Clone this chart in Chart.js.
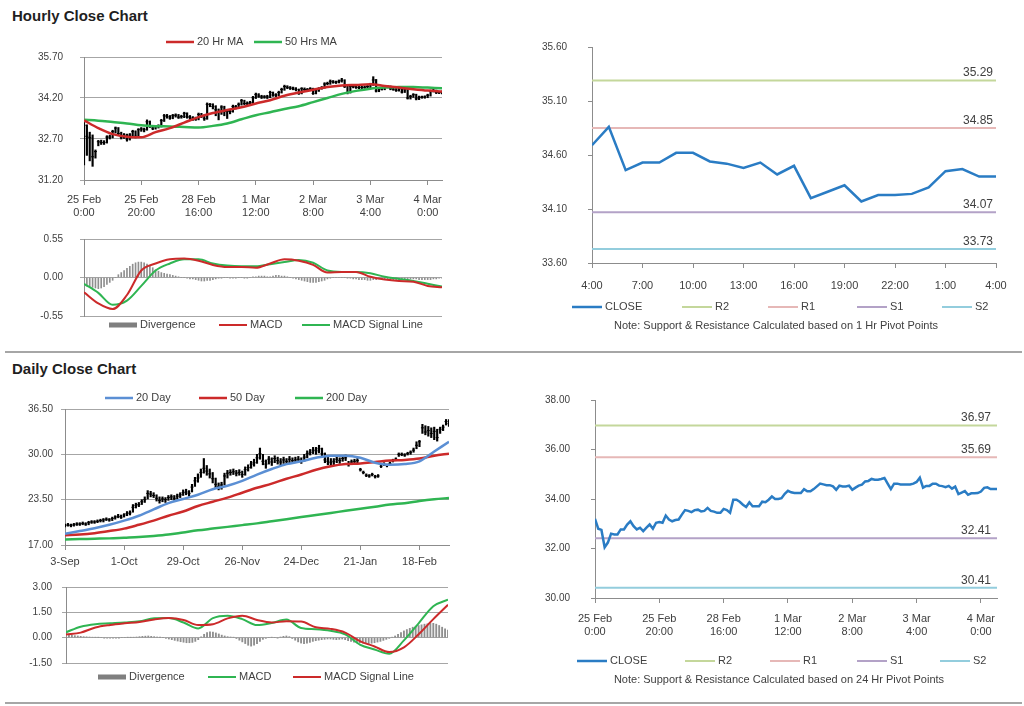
<!DOCTYPE html>
<html>
<head>
<meta charset="utf-8">
<script src="https://cdn.jsdelivr.net/npm/chart.js@4.4.1/dist/chart.umd.min.js"></script>
<style>
  body { margin: 0; background: #fff; width: 1024px; height: 706px; position: relative; overflow: hidden;
         font-family: Arial, "Liberation Sans", sans-serif; }
  canvas { position: absolute; }
  .title { position: absolute; left: 12px; font-weight: bold; font-size: 15px; color: #1f1f1f; }
  .sep { position: absolute; left: 5px; width: 1017px; height: 0; border-top: 2px solid #a6a6a6; }
</style>
</head>
<body>
<div class="title" style="top:7px">Hourly Close Chart</div>
<canvas id="hPrice" width="460" height="195" style="left:0;top:30px"></canvas>
<canvas id="hMacd" width="460" height="125" style="left:0;top:225px"></canvas>
<canvas id="hPivot" width="504" height="315" style="left:520px;top:30px"></canvas>
<div class="sep" style="top:351px"></div>
<div class="title" style="top:360px">Daily Close Chart</div>
<canvas id="dPrice" width="460" height="195" style="left:0;top:380px"></canvas>
<canvas id="dMacd" width="460" height="125" style="left:0;top:575px"></canvas>
<canvas id="dPivot" width="504" height="320" style="left:520px;top:380px"></canvas>
<div class="sep" style="top:702px"></div>
<script>
// ---------- hourly data, 25 Feb 0:00 .. 4 Mar 5:00 (one bar per trading hour) ----------
const hourlyTicks = [0, 20, 40, 60, 80, 100, 120];
const hourlyTickLabels = [['25 Feb', '0:00'], ['25 Feb', '20:00'], ['28 Feb', '16:00'], ['1 Mar', '12:00'],
                          ['2 Mar', '8:00'], ['3 Mar', '4:00'], ['4 Mar', '0:00']];
const hourlyPriceTicks = [31.2, 32.7, 34.2, 35.7];
const hourlyMacdTicks = [-0.55, 0, 0.55];

const hourlyClose = [
  33.20, 32.80, 32.75, 32.05, 32.24, 32.60, 32.57, 32.57, 32.77, 32.77,
  32.97, 33.10, 32.90, 32.77, 32.84, 32.70, 32.84, 32.97, 32.80, 33.04,
  33.07, 33.04, 33.33, 33.17, 33.10, 33.15, 33.17, 33.37, 33.55, 33.52,
  33.47, 33.55, 33.57, 33.50, 33.52, 33.64, 33.52, 33.49, 33.44, 33.44,
  33.60, 33.55, 33.44, 33.97, 33.97, 33.89, 33.77, 33.68, 33.87, 33.71,
  33.71, 33.71, 33.89, 33.87, 33.97, 34.10, 34.00, 34.00, 34.03, 34.21,
  34.33, 34.27, 34.24, 34.24, 34.24, 34.40, 34.31, 34.31, 34.40, 34.51,
  34.62, 34.59, 34.56, 34.56, 34.51, 34.37, 34.54, 34.51, 34.51, 34.54,
  34.37, 34.46, 34.54, 34.58, 34.71, 34.73, 34.81, 34.78, 34.78, 34.81,
  34.85, 34.62, 34.40, 34.62, 34.62, 34.59, 34.59, 34.59, 34.59, 34.62,
  34.69, 34.86, 34.46, 34.53, 34.53, 34.62, 34.62, 34.54, 34.52, 34.48,
  34.53, 34.42, 34.50, 34.20, 34.26, 34.32, 34.17, 34.23, 34.23, 34.24,
  34.30, 34.45, 34.47, 34.40, 34.40, 34.40
];
const hourlyHigh = [
  33.30, 33.22, 32.95, 32.85, 32.30, 32.65, 32.66, 32.64, 32.82, 32.84,
  33.02, 33.14, 33.12, 32.95, 32.90, 32.88, 32.90, 33.02, 33.00, 33.08,
  33.12, 33.10, 33.40, 33.36, 33.20, 33.20, 33.22, 33.42, 33.60, 33.60,
  33.56, 33.60, 33.62, 33.60, 33.57, 33.68, 33.66, 33.56, 33.52, 33.50,
  33.65, 33.64, 33.58, 34.02, 34.00, 33.99, 33.92, 33.80, 33.92, 33.90,
  33.78, 33.76, 33.94, 33.93, 34.02, 34.15, 34.12, 34.06, 34.08, 34.26,
  34.38, 34.36, 34.30, 34.29, 34.30, 34.45, 34.42, 34.36, 34.45, 34.56,
  34.67, 34.65, 34.62, 34.60, 34.58, 34.53, 34.58, 34.57, 34.55, 34.58,
  34.56, 34.50, 34.58, 34.62, 34.76, 34.78, 34.86, 34.84, 34.82, 34.86,
  34.92, 34.87, 34.65, 34.66, 34.66, 34.65, 34.63, 34.63, 34.64, 34.66,
  34.74, 34.98, 34.88, 34.58, 34.57, 34.66, 34.66, 34.64, 34.57, 34.55,
  34.57, 34.55, 34.54, 34.52, 34.30, 34.36, 34.34, 34.27, 34.27, 34.28,
  34.34, 34.49, 34.52, 34.49, 34.44, 34.45
];
const hourlyLow = [
  31.75, 32.10, 31.90, 31.70, 32.00, 32.45, 32.50, 32.50, 32.55, 32.70,
  32.74, 32.92, 32.85, 32.70, 32.72, 32.62, 32.66, 32.80, 32.74, 32.78,
  32.98, 32.96, 33.02, 33.12, 33.04, 33.06, 33.10, 33.14, 33.34, 33.46,
  33.42, 33.44, 33.50, 33.45, 33.46, 33.48, 33.46, 33.42, 33.38, 33.38,
  33.40, 33.48, 33.38, 33.42, 33.88, 33.80, 33.55, 33.40, 33.60, 33.55,
  33.45, 33.62, 33.68, 33.80, 33.84, 33.94, 33.95, 33.94, 33.96, 34.00,
  34.18, 34.22, 34.18, 34.19, 34.18, 34.21, 34.26, 34.25, 34.28, 34.38,
  34.48, 34.54, 34.51, 34.50, 34.46, 34.33, 34.35, 34.46, 34.46, 34.48,
  34.33, 34.35, 34.44, 34.52, 34.56, 34.68, 34.70, 34.74, 34.73, 34.75,
  34.78, 34.58, 34.35, 34.38, 34.57, 34.55, 34.54, 34.54, 34.55, 34.56,
  34.58, 34.66, 34.42, 34.43, 34.49, 34.50, 34.57, 34.50, 34.48, 34.44,
  34.45, 34.38, 34.40, 34.16, 34.16, 34.22, 34.13, 34.14, 34.19, 34.19,
  34.21, 34.27, 34.42, 34.36, 34.36, 34.35
];
// moving averages and MACD read every 5th bar
const ma20Hr = [33.38, 33.10, 32.88, 32.78, 32.76, 32.95, 33.10, 33.30, 33.50, 33.65, 33.76, 33.86, 34.00,
                34.12, 34.28, 34.40, 34.50, 34.60, 34.66, 34.68, 34.70, 34.64, 34.58, 34.52, 34.47, 34.44];
const ma50Hr = [33.40, 33.37, 33.32, 33.27, 33.20, 33.17, 33.16, 33.14, 33.12, 33.18, 33.27, 33.42, 33.57,
                33.68, 33.80, 33.90, 34.05, 34.20, 34.35, 34.46, 34.54, 34.58, 34.60, 34.60, 34.58, 34.56];
const macdHr = [-0.21, -0.37, -0.45, -0.25, 0.10, 0.20, 0.26, 0.27, 0.24, 0.18, 0.15, 0.15, 0.14,
                0.20, 0.26, 0.24, 0.18, 0.07, 0.08, 0.08, 0.01, -0.03, -0.05, -0.06, -0.12, -0.14];
const signalHr = [-0.09, -0.22, -0.39, -0.33, -0.12, 0.10, 0.20, 0.26, 0.26, 0.20, 0.17, 0.16, 0.16,
                  0.19, 0.22, 0.25, 0.21, 0.10, 0.08, 0.08, 0.06, 0.01, -0.02, -0.05, -0.09, -0.13];
const divergenceHr = [
  -0.10, -0.12, -0.13, -0.14, -0.15, -0.16, -0.15, -0.13, -0.10, -0.07,
  -0.04, 0.00, 0.04, 0.07, 0.10, 0.13, 0.16, 0.19, 0.21, 0.22,
  0.22, 0.21, 0.19, 0.17, 0.14, 0.11, 0.09, 0.07, 0.06, 0.05,
  0.04, 0.03, 0.02, 0.01, 0.00, 0.00, -0.01, -0.02, -0.02, -0.03,
  -0.04, -0.05, -0.05, -0.04, -0.04, -0.03, -0.02, -0.01, -0.01, 0.00,
  0.00, -0.01, -0.01, -0.01, 0.00, 0.00, -0.01, -0.01, 0.00, 0.01,
  0.01, 0.02, 0.02, 0.02, 0.01, 0.01, 0.02, 0.03, 0.03, 0.02,
  0.02, 0.01, 0.00, -0.01, -0.02, -0.03, -0.04, -0.05, -0.06, -0.07,
  -0.07, -0.07, -0.06, -0.05, -0.04, -0.02, -0.01, 0.00, 0.00, 0.00,
  0.00, 0.00, -0.01, -0.01, -0.02, -0.02, -0.03, -0.03, -0.03, -0.04,
  -0.04, -0.03, -0.03, -0.02, -0.02, -0.02, -0.02, -0.03, -0.03, -0.03,
  -0.03, -0.03, -0.03, -0.02, -0.02, -0.02, -0.02, -0.03, -0.03, -0.03,
  -0.03, -0.03, -0.02, -0.02, -0.01, -0.01
];

// ---------- last 24 hours with 1 Hr pivots ----------
const dayHours = ['4:00', '5:00', '6:00', '7:00', '8:00', '9:00', '10:00', '11:00', '12:00', '13:00',
                  '14:00', '15:00', '16:00', '17:00', '18:00', '19:00', '20:00', '21:00', '22:00', '23:00',
                  '0:00', '1:00', '2:00', '3:00', '4:00'];
const dayHourTicks = [0, 3, 6, 9, 12, 15, 18, 21, 24];
const dayClose = [34.69, 34.86, 34.46, 34.53, 34.53, 34.62, 34.62, 34.54, 34.52, 34.48, 34.53, 34.42, 34.50,
                  34.20, 34.26, 34.32, 34.17, 34.23, 34.23, 34.24, 34.30, 34.45, 34.47, 34.40, 34.40];
const dayPivotTicks = [33.6, 34.1, 34.6, 35.1, 35.6];
const pivotNames = ['R2', 'R1', 'S1', 'S2'];
const pivots1Hr = [35.29, 34.85, 34.07, 33.73];

// ---------- daily data, 3-Sep .. 4-Mar ----------
const dailyTicks = [0, 20, 40, 60, 80, 100, 120];
const dailyTickLabels = ['3-Sep', '1-Oct', '29-Oct', '26-Nov', '24-Dec', '21-Jan', '18-Feb'];
const dailyPriceTicks = [17, 23.5, 30, 36.5];
const dailyMacdTicks = [-1.5, 0, 1.5, 3];

const dailyClose = [
  19.8, 19.9, 19.8, 19.9, 20.0, 20.0, 20.1, 20.0, 20.2, 20.3,
  20.3, 20.4, 20.5, 20.6, 20.7, 20.6, 20.8, 21.0, 21.1, 21.0,
  21.3, 21.5, 21.6, 22.4, 22.7, 22.8, 23.2, 23.5, 24.4, 24.3,
  24.1, 23.7, 23.4, 23.6, 23.5, 23.8, 23.9, 23.7, 24.0, 24.2,
  24.5, 24.6, 24.4, 25.3, 26.2, 26.6, 27.4, 28.0, 27.6, 27.2,
  26.5, 25.7, 25.4, 25.6, 26.9, 27.3, 27.4, 27.5, 27.3, 27.4,
  27.1, 27.8, 28.1, 28.6, 28.8, 29.5, 30.1, 29.0, 28.6, 29.3,
  28.9, 29.4, 29.1, 28.9, 29.2, 29.0, 29.3, 29.1, 29.2, 29.3,
  29.1, 29.6, 30.1, 30.3, 30.6, 30.5, 30.8, 30.1, 29.2, 29.0,
  28.8, 29.0, 29.3, 29.1, 29.4, 29.5, 28.6, 28.9, 29.0, 29.1,
  27.8, 27.4, 27.0, 26.9, 27.1, 26.8, 26.9, 28.3, 28.6, 28.4,
  28.7, 29.1, 29.3, 30.0, 30.0, 29.9, 30.1, 30.3, 30.6, 31.3,
  31.8, 33.8, 33.2, 33.4, 33.0, 33.3, 32.4, 33.6, 33.9, 34.7,
  34.4
];
const dailyHigh = [
  20.0, 20.1, 20.0, 20.1, 20.2, 20.2, 20.3, 20.2, 20.4, 20.5,
  20.5, 20.6, 20.7, 20.8, 20.9, 20.8, 21.0, 21.2, 21.4, 21.3,
  21.5, 21.8, 21.9, 22.8, 23.0, 23.1, 23.5, 23.9, 24.8, 24.7,
  24.5, 24.2, 23.9, 23.9, 23.8, 24.1, 24.2, 24.1, 24.3, 24.5,
  24.9, 25.0, 24.8, 25.7, 26.7, 27.2, 27.9, 29.4, 28.4, 27.9,
  27.4, 26.6, 25.9, 26.0, 27.3, 27.7, 27.8, 27.9, 27.7, 27.8,
  27.6, 28.2, 28.5, 29.0, 29.3, 30.0, 30.9, 30.0, 29.2, 29.7,
  29.5, 29.8, 29.6, 29.4, 29.6, 29.4, 29.7, 29.5, 29.6, 29.7,
  29.5, 30.0, 30.5, 30.7, 31.0, 31.0, 31.3, 30.9, 30.2, 29.6,
  29.4, 29.4, 29.7, 29.5, 29.8, 29.9, 29.0, 29.2, 29.3, 29.4,
  28.0, 27.6, 27.2, 27.1, 27.3, 27.0, 27.1, 28.5, 28.8, 28.6,
  28.9, 29.3, 29.5, 30.2, 30.2, 30.1, 30.3, 30.5, 30.9, 31.8,
  32.0, 34.3, 34.1, 34.0, 33.8, 33.9, 33.6, 33.9, 34.2, 35.0,
  35.0
];
const dailyLow = [
  19.6, 19.7, 19.6, 19.7, 19.8, 19.8, 19.9, 19.8, 19.9, 20.1,
  20.1, 20.2, 20.3, 20.3, 20.5, 20.4, 20.5, 20.7, 20.9, 20.8,
  21.0, 21.2, 21.3, 21.7, 22.3, 22.5, 22.8, 23.1, 23.6, 23.9,
  23.8, 23.3, 23.0, 23.2, 23.1, 23.4, 23.5, 23.4, 23.6, 23.8,
  24.1, 24.2, 24.0, 24.6, 25.4, 26.0, 26.7, 27.3, 27.0, 26.6,
  25.9, 25.2, 24.9, 25.0, 25.6, 26.6, 27.0, 27.1, 26.9, 27.0,
  26.7, 27.0, 27.6, 28.0, 28.3, 28.7, 29.3, 28.5, 28.0, 28.6,
  28.4, 28.8, 28.6, 28.4, 28.7, 28.6, 28.8, 28.7, 28.8, 28.9,
  28.7, 29.0, 29.5, 29.9, 30.1, 30.0, 30.2, 29.6, 28.8, 28.5,
  28.3, 28.5, 28.8, 28.7, 29.0, 29.1, 28.3, 28.6, 28.7, 28.8,
  27.6, 27.2, 26.8, 26.7, 26.9, 26.6, 26.7, 28.1, 28.4, 28.2,
  28.5, 28.9, 29.1, 29.7, 29.8, 29.7, 29.9, 30.0, 30.3, 30.8,
  31.1, 33.0, 32.8, 32.6, 32.4, 32.1, 31.9, 33.0, 33.4, 34.2,
  34.0
];
// moving averages and MACD read every 5th day
const ma20Day = [18.6, 19.0, 19.4, 19.9, 20.5, 21.2, 22.1, 23.0, 23.6, 24.2, 25.0, 25.5, 26.2, 27.1,
                 27.9, 28.6, 29.0, 29.5, 29.8, 29.8, 29.5, 28.8, 28.5, 28.6, 29.0, 30.4, 31.8];
const ma50Day = [18.4, 18.5, 18.7, 19.0, 19.35, 19.9, 20.5, 21.2, 21.8, 22.6, 23.2, 23.8, 24.5, 25.2,
                 25.8, 26.5, 27.1, 27.8, 28.3, 28.6, 28.7, 28.9, 29.1, 29.2, 29.4, 29.8, 30.1];
const ma200Day = [17.8, 17.85, 17.9, 17.95, 18.05, 18.15, 18.3, 18.5, 18.8, 19.1, 19.35, 19.6, 19.85, 20.1,
                  20.4, 20.7, 21.0, 21.3, 21.6, 21.9, 22.2, 22.5, 22.8, 23.0, 23.3, 23.55, 23.75];
const macdDay = [0.32, 0.65, 0.80, 0.85, 0.90, 0.97, 1.15, 1.16, 0.90, 0.55, 1.16, 1.30, 1.10, 0.75,
                 0.87, 1.07, 0.57, 0.50, 0.41, 0.20, -0.41, -0.70, -0.95, -0.16, 0.85, 1.86, 2.25];
const signalDay = [0.18, 0.30, 0.60, 0.75, 0.85, 0.93, 1.08, 1.16, 1.05, 0.75, 0.80, 1.14, 1.30, 1.05,
                   0.90, 0.97, 0.95, 0.62, 0.52, 0.30, -0.20, -0.52, -0.85, -0.57, 0.20, 1.10, 1.95];
const divergenceDay = [
  0.20, 0.18, 0.15, 0.12, 0.10, 0.08, 0.06, 0.05, 0.04, 0.03,
  0.02, 0.01, 0.00, -0.02, -0.03, -0.03, -0.02, -0.02, -0.01, 0.00,
  0.00, 0.01, 0.01, 0.02, 0.04, 0.06, 0.08, 0.09, 0.10, 0.08,
  0.06, 0.04, 0.02, 0.00, -0.04, -0.08, -0.12, -0.16, -0.20, -0.24,
  -0.27, -0.30, -0.30, -0.28, -0.22, -0.12, 0.05, 0.20, 0.30, 0.35,
  0.33, 0.28, 0.22, 0.15, 0.10, 0.06, 0.04, 0.02, -0.05, -0.15,
  -0.25, -0.35, -0.45, -0.50, -0.45, -0.35, -0.22, -0.10, -0.04, 0.00,
  0.02, 0.00, -0.02, 0.04, 0.08, 0.10, 0.06, -0.05, -0.15, -0.25,
  -0.32, -0.35, -0.33, -0.28, -0.22, -0.18, -0.15, -0.12, -0.10, -0.08,
  -0.08, -0.10, -0.12, -0.10, -0.08, -0.12, -0.18, -0.22, -0.26, -0.28,
  -0.30, -0.32, -0.34, -0.35, -0.33, -0.30, -0.26, -0.22, -0.16, -0.10,
  -0.04, 0.02, 0.10, 0.20, 0.30, 0.40, 0.48, 0.55, 0.62, 0.68,
  0.72, 0.76, 0.80, 0.82, 0.84, 0.85, 0.80, 0.72, 0.62, 0.52,
  0.45
];
const dayPivotTicks24 = [30, 32, 34, 36, 38];
const pivots24Hr = [36.97, 35.69, 32.41, 30.41];

// ---------- styling ----------
const FONT = 'Arial, "Liberation Sans", sans-serif';
const TEXT = '#404040', GRID = '#a6a6a6', AXIS = '#8c8c8c';
const RED = '#cc2a2a', GREEN = '#2fb552', MA_BLUE = '#5b8fd4', CLOSE_BLUE = '#2a7cc4', DIV_GRAY = '#8f8f8f';
const PIVOT_COLORS = ['#c4d79b', '#e6b8b7', '#b3a2c7', '#93cddd'];

Chart.defaults.font.family = FONT;
Chart.defaults.color = TEXT;
Chart.defaults.elements.point.radius = 0;

// legend drawn as one row at fixed spots, like the spreadsheet legends
const rowLegend = {
  id: 'rowLegend',
  afterDraw(chart, args, opts) {
    if (!opts.x) return;
    const ctx = chart.ctx, w = opts.w || 28;
    ctx.save();
    ctx.font = '11px ' + FONT;
    ctx.textBaseline = 'middle';
    chart.data.datasets.filter(d => d.label).forEach((d, k) => {
      const x = opts.x[k], y = opts.y;
      if (d.type === 'bar') {
        ctx.fillStyle = '#7f7f7f';
        ctx.fillRect(x, y - 2.5, w, 5);
      } else {
        ctx.strokeStyle = d.borderColor;
        ctx.lineWidth = d.borderWidth;
        ctx.beginPath(); ctx.moveTo(x, y); ctx.lineTo(x + w, y); ctx.stroke();
      }
      ctx.fillStyle = TEXT;
      ctx.fillText(d.label, x + w + 3, y);
    });
    if (opts.note) {
      ctx.textAlign = 'center';
      ctx.fillText(opts.note, opts.noteX, opts.noteY);
    }
    ctx.restore();
  }
};

// value written above each pivot line at the right end
const pivotLabels = {
  id: 'pivotLabels',
  afterDatasetsDraw(chart, args, opts) {
    if (!opts.right) return;
    const ctx = chart.ctx, ys = chart.scales.y;
    ctx.save();
    ctx.font = '12px ' + FONT;
    ctx.fillStyle = TEXT;
    ctx.textAlign = 'right';
    chart.data.datasets.forEach(d => {
      if (!d.pivot) return;
      const v = d.data[0].y;
      ctx.fillText(v.toFixed(2), opts.right, ys.getPixelForValue(v) - 4);
    });
    ctx.restore();
  }
};
Chart.register(rowLegend, pivotLabels);

function yAxis(ticks, width, pad, grid) {
  return {
    type: 'linear', min: ticks[0], max: ticks[ticks.length - 1],
    afterBuildTicks: s => { s.ticks = ticks.map(v => ({ value: v })); },
    // fixed width; keep the label padding from pushing the plot down
    afterFit: s => { s.width = width; s.paddingTop = 6; s.paddingBottom = 6; },
    ticks: { font: { size: 10 }, padding: pad, callback: v => v.toFixed(2) },
    grid: { drawOnChartArea: grid, color: grid ? GRID : AXIS, tickLength: 4 },
    border: { color: AXIS }
  };
}

function xAxis(max, ticks, labelOf, height, pad, show) {
  return {
    type: 'linear', min: 0, max, offset: false,
    afterBuildTicks: s => { s.ticks = ticks.map(v => ({ value: v })); },
    afterFit: s => { s.height = height; },
    ticks: { display: show, font: { size: 11 }, padding: pad, maxRotation: 0, autoSkip: false,
             callback: v => labelOf(v) },
    grid: { drawOnChartArea: false, drawTicks: show, tickLength: 5, color: AXIS, offset: false },
    border: { display: show, color: AXIS }
  };
}

function makeChart(id, datasets, scales, padding, legend, pivots) {
  return new Chart(document.getElementById(id), {
    type: 'line',
    data: { datasets },
    options: {
      responsive: false, animation: false, events: [],
      layout: { padding },
      scales,
      plugins: { legend: { display: false }, tooltip: { enabled: false },
                 rowLegend: legend, pivotLabels: pivots || {} }
    }
  });
}

const everyFive = arr => arr.map((v, k) => ({ x: k * 5, y: v }));
const perBar = arr => arr.map((v, i) => ({ x: i, y: v }));
const smooth = (label, data, color, width, order) =>
  ({ type: 'line', label, data, borderColor: color, borderWidth: width, order, cubicInterpolationMode: 'monotone' });
const straight = (label, data, color, width, order) =>
  ({ type: 'line', label, data, borderColor: color, borderWidth: width, order, tension: 0 });
const hlcBars = (high, low, thick) =>
  ({ type: 'bar', data: high.map((h, i) => ({ x: i, y: [low[i], h] })), backgroundColor: '#000', barThickness: thick, order: 9 });
const closeTicks = close =>
  ({ type: 'line', data: perBar(close), showLine: false, pointStyle: 'line', pointRadius: 1.5,
     pointBorderWidth: 1, borderColor: '#000', order: 8 });
const pivotSets = (levels, xmax) => pivotNames.map((name, k) =>
  ({ type: 'line', label: name, pivot: true, data: [{ x: 0, y: levels[k] }, { x: xmax, y: levels[k] }],
     borderColor: PIVOT_COLORS[k], borderWidth: 2, order: 2 }));

// ---- hourly close with moving averages ----
makeChart('hPrice', [
  smooth('20 Hr MA', everyFive(ma20Hr), RED, 2.5, 1),
  smooth('50 Hrs MA', everyFive(ma50Hr), GREEN, 2.5, 2),
  closeTicks(hourlyClose),
  hlcBars(hourlyHigh, hourlyLow, 1.5)
], {
  x: xAxis(125, hourlyTicks, v => hourlyTickLabels[hourlyTicks.indexOf(v)], 45, 8, true),
  y: yAxis(hourlyPriceTicks, 84, 17, true)
}, { top: 27, right: 18, left: 0, bottom: 0 }, { x: [166, 254], y: 12 });

// ---- hourly MACD ----
makeChart('hMacd', [
  { type: 'bar', label: 'Divergence', data: perBar(divergenceHr), backgroundColor: DIV_GRAY, barThickness: 1, order: 9 },
  smooth('MACD', everyFive(macdHr), RED, 2, 1),
  smooth('MACD Signal Line', everyFive(signalHr), GREEN, 2, 2)
], {
  x: xAxis(125, hourlyTicks, () => '', 34, 0, false),
  y: yAxis(hourlyMacdTicks, 84, 17, true)
}, { top: 14, right: 18, left: 0, bottom: 0 }, { x: [109, 219, 302], y: 100 });

// ---- last 24 hours with 1 Hr pivot points ----
makeChart('hPivot', [
  straight('CLOSE', perBar(dayClose), CLOSE_BLUE, 2.5, 1),
  ...pivotSets(pivots1Hr, 24)
], {
  x: xAxis(24, dayHourTicks, v => dayHours[v], 82, 11, true),
  y: yAxis(dayPivotTicks, 72, 21, false)
}, { top: 17, right: 28, left: 0, bottom: 0 }, {
  x: [52, 162, 248, 337, 422], y: 277, w: 30,
  note: 'Note: Support & Resistance Calculated based on 1 Hr Pivot Points', noteX: 256, noteY: 296
}, { right: 473 });

// ---- daily close with moving averages ----
makeChart('dPrice', [
  smooth('20 Day', everyFive(ma20Day), MA_BLUE, 2.5, 1),
  smooth('50 Day', everyFive(ma50Day), RED, 2.5, 2),
  smooth('200 Day', everyFive(ma200Day), GREEN, 2.5, 3),
  closeTicks(dailyClose),
  hlcBars(dailyHigh, dailyLow, 1.5)
], {
  x: xAxis(130, dailyTicks, v => dailyTickLabels[dailyTicks.indexOf(v)], 30, 5, true),
  y: yAxis(dailyPriceTicks, 65, 8, true)
}, { top: 29, right: 11, left: 0, bottom: 0 }, { x: [105, 199, 295], y: 18 });

// ---- daily MACD ----
makeChart('dMacd', [
  { type: 'bar', label: 'Divergence', data: perBar(divergenceDay), backgroundColor: DIV_GRAY, barThickness: 1.2, order: 9 },
  smooth('MACD', everyFive(macdDay), GREEN, 2, 2),
  smooth('MACD Signal Line', everyFive(signalDay), RED, 2, 1)
], {
  x: xAxis(130, dailyTicks, () => '', 37, 0, false),
  y: yAxis(dailyMacdTicks, 66, 10, true)
}, { top: 12, right: 12, left: 0, bottom: 0 }, { x: [98, 208, 293], y: 102 });

// ---- hourly close with 24 Hr pivot points ----
makeChart('dPivot', [
  straight('CLOSE', perBar(hourlyClose), CLOSE_BLUE, 2.5, 1),
  ...pivotSets(pivots24Hr, 125)
], {
  x: xAxis(125, hourlyTicks, v => hourlyTickLabels[hourlyTicks.indexOf(v)], 102, 9, true),
  y: yAxis(dayPivotTicks24, 75, 21, false)
}, { top: 20, right: 27, left: 0, bottom: 0 }, {
  x: [57, 165, 250, 337, 420], y: 281, w: 30,
  note: 'Note: Support & Resistance Calculated based on 24 Hr Pivot Points', noteX: 259, noteY: 300
}, { right: 471 });
</script>
</body>
</html>
